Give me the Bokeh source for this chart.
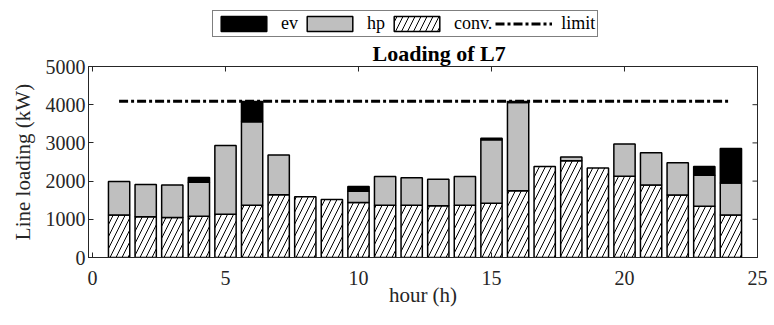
import numpy as np
from bokeh.plotting import figure
from bokeh.layouts import column
from bokeh.models import (Range1d, FixedTicker, Legend, LegendItem,
                          ColumnDataSource)
from bokeh.embed import file_html
from bokeh.resources import INLINE

# ---- data ----
hours = list(range(1, 25))
conv = [1110, 1065, 1050, 1083, 1135, 1371, 1641, 1589, 1519, 1440, 1371, 1371,
        1353, 1371, 1423, 1746, 2382, 2531, 2340, 2130, 1895, 1633, 1344, 1110]
hp = [880, 846, 845, 889, 1797, 2181, 1039, 0, 0, 297, 749, 715,
      698, 749, 1658, 2312, 0, 97, 0, 838, 846, 846, 812, 837]
ev = [0, 0, 0, 122, 0, 532, 0, 0, 0, 122, 0, 0,
      0, 0, 44, 25, 0, 0, 0, 0, 0, 0, 226, 906]
limit_hours = [1, 24]
limit_value = [4090, 4090]
x_ticks = [0, 5, 10, 15, 20, 25]
y_ticks = [0, 1000, 2000, 3000, 4000, 5000]
X_MIN, X_MAX = -0.15, 25
Y_MIN, Y_MAX = 0, 5000

FONT = "Liberation Serif"
AX = "#262626"
GRAY = "#bfbfbf"

conv_a = np.array(conv, dtype=float)
hp_a = np.array(hp, dtype=float)
ev_a = np.array(ev, dtype=float)
hours_a = np.array(hours, dtype=float)

src_conv = ColumnDataSource(dict(x=hours_a, bottom=np.zeros_like(conv_a), top=conv_a))
m_hp = hp_a > 0
src_hp = ColumnDataSource(dict(x=hours_a[m_hp], bottom=conv_a[m_hp], top=(conv_a + hp_a)[m_hp]))
m_ev = ev_a > 0
src_ev = ColumnDataSource(dict(x=hours_a[m_ev], bottom=(conv_a + hp_a)[m_ev],
                               top=(conv_a + hp_a + ev_a)[m_ev]))
src_lim = ColumnDataSource(dict(x=limit_hours, y=limit_value))

conv_style = dict(fill_color="white", line_color="black", line_width=1.5,
                  hatch_pattern="/", hatch_color="black", hatch_scale=12, hatch_weight=1)
hp_style = dict(fill_color=GRAY, line_color="black", line_width=1.5)
ev_style = dict(fill_color="black", line_color="black", line_width=1.5)
lim_style = dict(line_color="black", line_width=3, line_dash="9 3 3 3")
BW = 0.8

HEAD_H = 37
TOP_B = 29

# ---------------- main chart ----------------
p = figure(width=774, height=325 - HEAD_H, output_backend="svg", toolbar_location=None,
           title="Loading of L7",
           x_range=Range1d(X_MIN, X_MAX), y_range=Range1d(Y_MIN, Y_MAX),
           min_border_left=88, min_border_right=17, min_border_top=TOP_B,
           min_border_bottom=68)
p.background_fill_color = "white"
p.border_fill_color = "white"
p.outline_line_color = AX
p.outline_line_width = 1
p.grid.visible = False

p.title.align = "left"
p.title.offset = 284
p.title.standoff = 2
p.title.text_font = FONT
p.title.text_font_size = "22px"
p.title.text_font_style = "bold"
p.title.text_color = "black"

r_conv = p.vbar(x="x", bottom="bottom", top="top", width=BW, source=src_conv, **conv_style)
r_hp = p.vbar(x="x", bottom="bottom", top="top", width=BW, source=src_hp, **hp_style)
r_ev = p.vbar(x="x", bottom="bottom", top="top", width=BW, source=src_ev, **ev_style)
r_lim = p.line(x="x", y="y", source=src_lim, **lim_style)

# inward ticks on the top and right edges of the box
p.scatter(x=x_ticks, y=[Y_MAX] * len(x_ticks), marker="dash", angle=np.pi / 2,
          size=10, line_color=AX, line_width=1)
p.scatter(x=[X_MAX] * len(y_ticks), y=y_ticks, marker="dash",
          size=10, line_color=AX, line_width=1)

for ax in (p.xaxis[0], p.yaxis[0]):
    ax.major_tick_in = 5
    ax.major_tick_out = 0
    ax.minor_tick_line_color = None
    ax.axis_line_color = AX
    ax.major_tick_line_color = AX
    ax.major_label_text_font = FONT
    ax.major_label_text_font_size = "20px"
    ax.major_label_text_color = AX
    ax.axis_label_text_font = FONT
    ax.axis_label_text_font_size = "21px"
    ax.axis_label_text_font_style = "normal"
    ax.axis_label_text_color = AX

p.xaxis.ticker = FixedTicker(ticks=x_ticks)
p.yaxis.ticker = FixedTicker(ticks=y_ticks)
p.xaxis.axis_label = "hour (h)"
p.yaxis.axis_label = "Line loading (kW)"
p.xaxis.major_label_standoff = 13
p.xaxis.axis_label_standoff = -5
p.yaxis.major_label_standoff = 3
p.yaxis.axis_label_standoff = 8

# ---------------- header: legend ----------------
# hidden copies of the series renderers; only their legend entries are shown
head = figure(width=774, height=HEAD_H, output_backend="svg", toolbar_location=None,
              title=None, x_range=Range1d(X_MIN, X_MAX), y_range=Range1d(Y_MIN, Y_MAX),
              x_axis_location=None, y_axis_location=None,
              min_border_left=0, min_border_right=0, min_border_top=0,
              min_border_bottom=0)
head.outline_line_color = None
head.grid.visible = False
head.background_fill_color = "white"
head.border_fill_color = "white"

h_ev = head.vbar(x="x", bottom="bottom", top="top", width=BW, source=src_ev,
                 visible=False, **ev_style)
h_hp = head.vbar(x="x", bottom="bottom", top="top", width=BW, source=src_hp,
                 visible=False, **hp_style)
h_conv = head.vbar(x="x", bottom="bottom", top="top", width=BW, source=src_conv,
                   visible=False, **conv_style)
h_lim = head.line(x="x", y="y", source=src_lim, visible=False, **lim_style)

legend = Legend(items=[LegendItem(label="ev", renderers=[h_ev]),
                       LegendItem(label="hp", renderers=[h_hp]),
                       LegendItem(label="conv.", renderers=[h_conv]),
                       LegendItem(label="limit", renderers=[h_lim])],
                orientation="horizontal", location=(124, 0),
                glyph_width=57, glyph_height=19, label_height=18, label_width=0,
                label_text_font=FONT, label_text_font_size="18px",
                label_text_color="black", label_standoff=9, spacing=3,
                padding=2, margin=0, border_line_color="black", border_line_width=1,
                background_fill_color="white", background_fill_alpha=1,
                inactive_fill_alpha=0, click_policy="none")
head.add_layout(legend)

layout = column(head, p, spacing=0)
open("out.html", "w").write(file_html(layout, INLINE))
